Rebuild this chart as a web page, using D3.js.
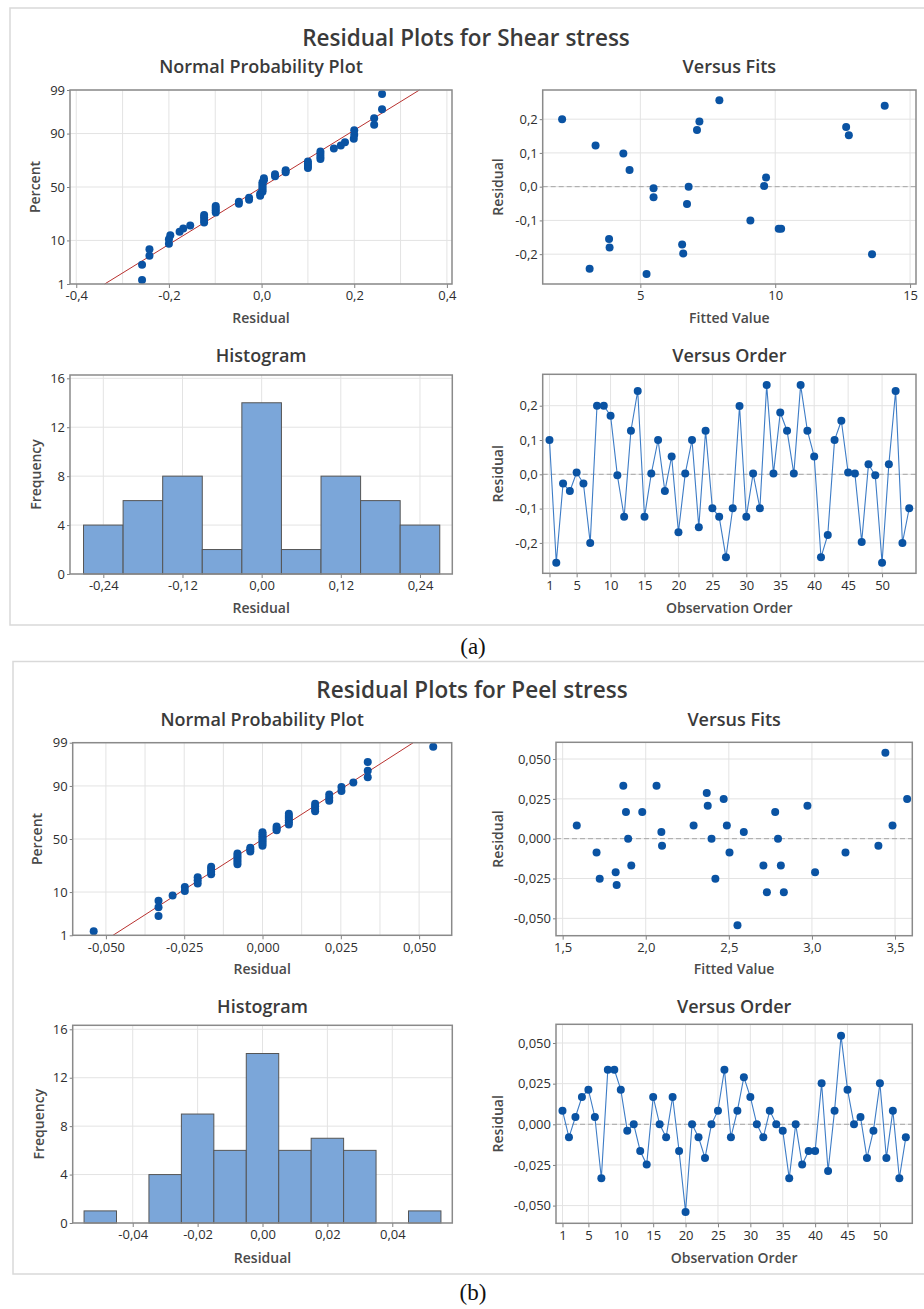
<!DOCTYPE html>
<html>
<head>
<meta charset="utf-8">
<script src="https://cdn.jsdelivr.net/npm/d3@7"></script>
<style>
  body { margin: 0; background: #fff; }
  text { font-family: "Open Sans", sans-serif; }
</style>
</head>
<body>
<script>
const shearResid = [0.1, -0.258, -0.027, -0.049, 0.005, -0.027, -0.2, 0.2, 0.2, 0.171,
  -0.003, -0.124, 0.127, 0.243, -0.124, 0.002, 0.1, -0.049, 0.052, -0.169,
  0.002, 0.1, -0.154, 0.127, -0.099, -0.124, -0.242, -0.099, 0.199, -0.124,
  0.002, -0.099, 0.26, 0.002, 0.18, 0.127, 0.002, 0.26, 0.127, 0.052,
  -0.242, -0.177, 0.1, 0.156, 0.005, 0.002, -0.197, 0.029, -0.003, -0.258,
  0.029, 0.243, -0.2, -0.099];
const peelResid = [0.0084, -0.008, 0.0045, 0.0168, 0.0213, 0.0045, -0.0332, 0.0336, 0.0336, 0.0213,
  -0.0039, 0, -0.0164, -0.0248, 0.0168, 0, -0.008, 0.0168, -0.0164, -0.0539,
  0, -0.008, -0.0207, 0, 0.0084, 0.0336, -0.008, 0.0084, 0.029, 0.0168,
  0, -0.008, 0.0084, 0, -0.0039, -0.0332, 0, -0.0248, -0.0164, -0.0164,
  0.0252, -0.0287, 0.0084, 0.0545, 0.0213, 0, 0.0045, -0.0207, -0.0039, 0.0252,
  -0.0207, 0.0084, -0.0332, -0.008];

// versus fits (visible points)
const shearFitX = [2.1, 3.12, 3.34, 3.84, 3.86, 4.37, 4.6, 5.23, 5.49, 5.49, 6.55, 6.59, 6.73,
  6.79, 7.1, 7.19, 7.93, 9.08, 9.59, 9.66, 10.13, 10.22, 12.63, 12.73, 13.59, 14.06];
const shearFitY = [0.2, -0.243, 0.122, -0.155, -0.18, 0.098, 0.049, -0.259, -0.005, -0.031, -0.171, -0.198, -0.051,
  0.0, 0.168, 0.193, 0.256, -0.1, 0.002, 0.027, -0.125, -0.125, 0.177, 0.152, -0.2, 0.24];
const peelFitX = [1.585, 1.704, 1.723, 1.819, 1.825, 1.865, 1.881, 1.894, 1.913, 1.979, 2.065, 2.094,
  2.098, 2.288, 2.367, 2.373, 2.396, 2.419, 2.469, 2.488, 2.504, 2.552, 2.59, 2.708,
  2.729, 2.779, 2.796, 2.813, 2.831, 2.973, 3.019, 3.202, 3.4, 3.442, 3.485, 3.573];
const peelFitY = [0.0082, -0.0086, -0.0251, -0.0211, -0.0291, 0.0333, 0.0167, 0, -0.0169, 0.0167, 0.0333, 0.0042,
  -0.0044, 0.0082, 0.0287, 0.0207, 0, -0.0251, 0.0249, 0.0082, -0.0086, -0.0544, 0.0042, -0.0169,
  -0.0337, 0.0167, 0, -0.0169, -0.0337, 0.0207, -0.0211, -0.0086, -0.0044, 0.054, 0.0082, 0.0249];

// histograms
const shearBinMid = [-0.24, -0.18, -0.12, -0.06, 0, 0.06, 0.12, 0.18, 0.24];
const shearBinCount = [4, 6, 8, 2, 14, 2, 8, 6, 4];
const peelBinMid = [-0.05, -0.04, -0.03, -0.02, -0.01, 0, 0.01, 0.02, 0.03, 0.04, 0.05];
const peelBinCount = [1, 0, 4, 9, 6, 14, 6, 7, 6, 0, 1];

// ticks
const percentTicks = [1, 10, 50, 90, 99];
const orderTicks = [1, 5, 10, 15, 20, 25, 30, 35, 40, 45, 50];
const freqTicks = [0, 4, 8, 12, 16];

const svg = d3.select("body").append("svg").attr("width", 924).attr("height", 1309);
const loc = d3.formatLocale({decimal: ",", thousands: ".", grouping: [3], currency: ["", ""], minus: "-"});
const f = s => loc.format(s);

const BLUE = "#0a53a3", TXT = "#2e2e2e";

// inverse normal cdf (Acklam)
function probit(p) {
  const a = [-3.969683028665376e+01, 2.209460984245205e+02, -2.759285104469687e+02, 1.383577518672690e+02, -3.066479806614716e+01, 2.506628277459239e+00];
  const b = [-5.447609879822406e+01, 1.615858368580409e+02, -1.556989798598866e+02, 6.680131188771972e+01, -1.328068155288572e+01];
  const c = [-7.784894002430293e-03, -3.223964580411365e-01, -2.400758277161838e+00, -2.549732539343734e+00, 4.374664141464968e+00, 2.938163982698783e+00];
  const d = [7.784695709041462e-03, 3.224671290700398e-01, 2.445134137142996e+00, 3.754408661907416e+00];
  let q, r;
  if (p < 0.02425) {
    q = Math.sqrt(-2 * Math.log(p));
    return (((((c[0]*q+c[1])*q+c[2])*q+c[3])*q+c[4])*q+c[5]) / ((((d[0]*q+d[1])*q+d[2])*q+d[3])*q+1);
  }
  if (p > 1 - 0.02425) return -probit(1 - p);
  q = p - 0.5; r = q * q;
  return (((((a[0]*r+a[1])*r+a[2])*r+a[3])*r+a[4])*r+a[5])*q / (((((b[0]*r+b[1])*r+b[2])*r+b[3])*r+b[4])*r+1);
}

function axisStyle(g) {
  g.select(".domain").remove();
  g.attr("font-family", "'Open Sans', sans-serif").attr("font-size", 13);
  g.selectAll(".tick line").attr("stroke", "#808080");
  g.selectAll(".tick text").attr("fill", TXT);
}

// draws grid, axes, frame and titles; returns scales and a group for marks
function plotBox(o) {
  const x = d3.scaleLinear().domain(o.xd).range([o.x0, o.x1]);
  const y = d3.scaleLinear().domain(o.yd).range([o.y1, o.y0]);
  const grid = svg.append("g");
  grid.selectAll(null).data(o.xGrid).join("line")
    .attr("x1", d => x(d)).attr("x2", d => x(d)).attr("y1", o.y0).attr("y2", o.y1)
    .attr("stroke", "#e3e3e3");
  grid.selectAll(null).data(o.yGrid).join("line")
    .attr("y1", d => y(d)).attr("y2", d => y(d)).attr("x1", o.x0).attr("x2", o.x1)
    .attr("stroke", "#e3e3e3");
  const marks = svg.append("g");
  const ax = svg.append("g");
  ax.append("g").attr("transform", `translate(0,${o.y1})`)
    .call(d3.axisBottom(x).tickValues(o.xTicks).tickFormat(o.xFmt).tickSize(4).tickPadding(3))
    .call(axisStyle);
  ax.append("g").attr("transform", `translate(${o.x0},0)`)
    .call(d3.axisLeft(y).tickValues(o.yTicks).tickFormat(o.yFmt).tickSize(3).tickPadding(2))
    .call(axisStyle);
  ax.append("rect").attr("x", o.x0).attr("y", o.y0)
    .attr("width", o.x1 - o.x0).attr("height", o.y1 - o.y0)
    .attr("fill", "none").attr("stroke", "#8a8a8a").attr("stroke-width", 1.5);
  const cx = (o.x0 + o.x1) / 2;
  ax.append("text").attr("x", cx).attr("y", o.ty).attr("text-anchor", "middle")
    .attr("font-size", 18).attr("font-weight", 600).attr("fill", "#3a3a3a").text(o.title);
  ax.append("text").attr("x", cx).attr("y", o.xly).attr("text-anchor", "middle")
    .attr("font-size", 14).attr("font-weight", 600).attr("fill", "#4a4a4a").text(o.xlab);
  ax.append("text").attr("transform", `translate(${o.ylx},${(o.y0 + o.y1) / 2}) rotate(-90)`)
    .attr("text-anchor", "middle")
    .attr("font-size", 14).attr("font-weight", 600).attr("fill", "#4a4a4a").text(o.ylab);
  return {x, y, marks};
}

function normPlot(o, resid) {
  const zLo = probit(0.01), zHi = probit(0.99);
  const p = plotBox(Object.assign({yd: [zLo, zHi], yTicks: percentTicks.map(v => probit(v / 100)),
    yGrid: percentTicks.map(v => probit(v / 100)), yFmt: (d, i) => percentTicks[i],
    title: "Normal Probability Plot", xlab: "Residual", ylab: "Percent"}, o));
  const n = resid.length;
  const sorted = resid.slice().sort(d3.ascending);
  const m = d3.mean(resid), s = d3.deviation(resid);
  p.marks.append("line")
    .attr("x1", p.x(m + s * zLo)).attr("y1", p.y(zLo))
    .attr("x2", p.x(m + s * zHi)).attr("y2", p.y(zHi))
    .attr("stroke", "#b8312f").attr("stroke-width", 1);
  p.marks.selectAll("circle").data(sorted).join("circle")
    .attr("cx", d => p.x(d))
    .attr("cy", (d, i) => p.y(probit((i + 1 - 0.3) / (n + 0.4))))
    .attr("r", 4).attr("fill", BLUE);
}

function fitsPlot(o, fx, fy) {
  const p = plotBox(Object.assign({xGrid: o.xTicks, yGrid: o.yTicks,
    title: "Versus Fits", xlab: "Fitted Value", ylab: "Residual"}, o));
  p.marks.append("line").attr("x1", o.x0).attr("x2", o.x1).attr("y1", p.y(0)).attr("y2", p.y(0))
    .attr("stroke", "#a6a6a6").attr("stroke-dasharray", "5,3");
  p.marks.selectAll("circle").data(fx).join("circle")
    .attr("cx", d => p.x(d)).attr("cy", (d, i) => p.y(fy[i]))
    .attr("r", 4).attr("fill", BLUE);
}

function histPlot(o, mids, counts) {
  const p = plotBox(Object.assign({xGrid: o.xTicks, yd: o.yd, yTicks: freqTicks, yGrid: freqTicks,
    yFmt: d => d, title: "Histogram", xlab: "Residual", ylab: "Frequency"}, o));
  const w = mids[1] - mids[0];
  p.marks.selectAll("rect").data(mids).join("rect")
    .attr("x", d => p.x(d - w / 2)).attr("width", p.x(w) - p.x(0))
    .attr("y", (d, i) => p.y(counts[i])).attr("height", (d, i) => p.y(0) - p.y(counts[i]))
    .attr("fill", "#7ba6d9").attr("stroke", "#555").attr("stroke-width", 1);
}

function orderPlot(o, resid) {
  const p = plotBox(Object.assign({xd: [0, 55], xTicks: orderTicks, xGrid: orderTicks, xFmt: d => d,
    yGrid: o.yTicks, title: "Versus Order", xlab: "Observation Order", ylab: "Residual"}, o));
  p.marks.append("line").attr("x1", o.x0).attr("x2", o.x1).attr("y1", p.y(0)).attr("y2", p.y(0))
    .attr("stroke", "#a6a6a6").attr("stroke-dasharray", "5,3");
  p.marks.append("path").datum(resid)
    .attr("d", d3.line().x((d, i) => p.x(i + 1)).y(d => p.y(d)))
    .attr("fill", "none").attr("stroke", "#3d7cc6").attr("stroke-width", 1.1);
  p.marks.selectAll("circle").data(resid).join("circle")
    .attr("cx", (d, i) => p.x(i + 1)).attr("cy", d => p.y(d))
    .attr("r", 4).attr("fill", BLUE);
}

// ---------- panel (a) ----------
svg.append("rect").attr("x", 10).attr("y", 8).attr("width", 940).attr("height", 617)
  .attr("fill", "none").attr("stroke", "#d9d9d9").attr("stroke-width", 1.5);
svg.append("text").attr("x", 466).attr("y", 45.5).attr("text-anchor", "middle")
  .attr("font-size", 22.5).attr("font-weight", 600).attr("fill", "#3a3a3a").text("Residual Plots for Shear stress");

normPlot({x0: 70, x1: 452, y0: 90, y1: 284, xd: [-0.4135, 0.411],
  xTicks: [-0.4, -0.2, 0, 0.2, 0.4], xGrid: d3.range(-4, 5).map(k => k / 10), xFmt: f(".1f"),
  ty: 73.3, xly: 323.3, ylx: 39.5}, shearResid);
fitsPlot({x0: 542.7, x1: 916, y0: 90, y1: 284, xd: [1.38, 15.22], yd: [-0.2884, 0.2864],
  xTicks: [5, 10, 15], xFmt: d => d, yTicks: [-0.2, -0.1, 0, 0.1, 0.2], yFmt: f(".1f"),
  ty: 73.3, xly: 323.3, ylx: 503}, shearFitX, shearFitY);
histPlot({x0: 70, x1: 452.3, y0: 375, y1: 574, xd: [-0.2905, 0.289], yd: [0, 16.27],
  xTicks: [-0.24, -0.12, 0, 0.12, 0.24], xFmt: f(".2f"),
  ty: 362.3, xly: 612.7, ylx: 41}, shearBinMid, shearBinCount);
orderPlot({x0: 542.7, x1: 916, y0: 374.3, y1: 573.3, yd: [-0.2886, 0.2915],
  yTicks: [-0.2, -0.1, 0, 0.1, 0.2], yFmt: f(".1f"),
  ty: 362.3, xly: 612.7, ylx: 503}, shearResid);

svg.append("text").attr("x", 473).attr("y", 654).attr("text-anchor", "middle")
  .style("font-family", "'Liberation Serif', serif").attr("font-size", 23).attr("fill", "#111").text("(a)");

// ---------- panel (b) ----------
svg.append("rect").attr("x", 13).attr("y", 661.5).attr("width", 940).attr("height", 612.5)
  .attr("fill", "none").attr("stroke", "#d9d9d9").attr("stroke-width", 1.5);
svg.append("text").attr("x", 472).attr("y", 698.3).attr("text-anchor", "middle")
  .attr("font-size", 22.5).attr("font-weight", 600).attr("fill", "#3a3a3a").text("Residual Plots for Peel stress");

normPlot({x0: 72.7, x1: 451.7, y0: 742.7, y1: 935.3, xd: [-0.0606, 0.0604],
  xTicks: [-0.05, -0.025, 0, 0.025, 0.05], xGrid: d3.range(-4, 5).map(k => k * 0.0125), xFmt: f(".3f"),
  ty: 726, xly: 974.3, ylx: 42}, peelResid);
fitsPlot({x0: 556, x1: 912.3, y0: 742.3, y1: 935.7, xd: [1.46, 3.604], yd: [-0.0609, 0.0605],
  xTicks: [1.5, 2, 2.5, 3, 3.5], xFmt: f(".1f"), yTicks: [-0.05, -0.025, 0, 0.025, 0.05], yFmt: f(".3f"),
  ty: 726, xly: 974.3, ylx: 503.3}, peelFitX, peelFitY);
histPlot({x0: 72.7, x1: 452.3, y0: 1025.3, y1: 1223, xd: [-0.0585, 0.0585], yd: [0, 16.33],
  xTicks: [-0.04, -0.02, 0, 0.02, 0.04], xFmt: f(".2f"),
  ty: 1013.3, xly: 1262.7, ylx: 43.5}, peelBinMid, peelBinCount);
orderPlot({x0: 556, x1: 912.3, y0: 1024.3, y1: 1223.3, yd: [-0.0609, 0.0615],
  yTicks: [-0.05, -0.025, 0, 0.025, 0.05], yFmt: f(".3f"),
  ty: 1013.3, xly: 1262.7, ylx: 503.3}, peelResid);

svg.append("text").attr("x", 473).attr("y", 1300).attr("text-anchor", "middle")
  .style("font-family", "'Liberation Serif', serif").attr("font-size", 23).attr("fill", "#111").text("(b)");
</script>
</body>
</html>
